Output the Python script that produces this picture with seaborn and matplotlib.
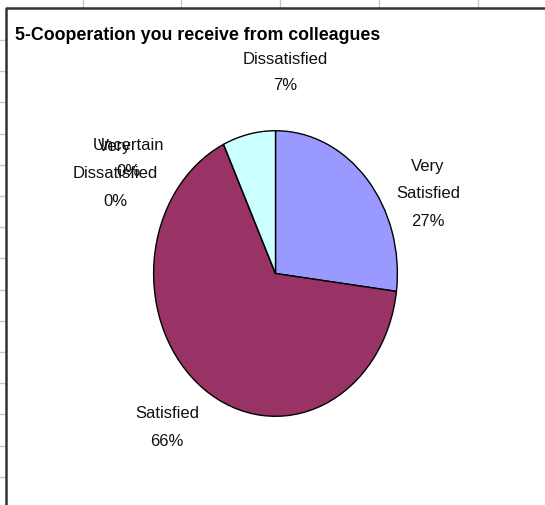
import matplotlib
matplotlib.use("Agg")
import matplotlib.pyplot as plt
import seaborn as sns

# data
categories = ['Very Satisfied', 'Satisfied', 'Very Dissatisfied', 'Uncertain', 'Dissatisfied']
label_text = ['Very\nSatisfied', 'Satisfied', 'Very\nDissatisfied', 'Uncertain', 'Dissatisfied']
percents = [27, 66, 0, 0, 7]
colors = ['#9999FF', '#993366', '#FFFFFF', '#FFFFCC', '#CCFFFF']
title = '5-Cooperation you receive from colleagues'

sns.set_style('white')
plt.rcParams['font.family'] = ['Liberation Sans', 'DejaVu Sans']

W, H = 545, 505
fig = plt.figure(figsize=(W / 100, H / 100), dpi=100)

# background layer in pixel coords (y down)
bg = fig.add_axes([0, 0, 1, 1])
bg.set_xlim(0, W)
bg.set_ylim(H, 0)
bg.axis('off')

# spreadsheet grid peeking out around the chart
for gx in [83, 181, 280, 379, 478]:
    bg.plot([gx, gx], [0, 7], color='#c8c8c8', lw=1)
for i in range(16):
    gy = 40 + i * 31.2
    bg.plot([0, 5], [gy, gy], color='#c8c8c8', lw=1)

# chart frame
bg.plot([5.5, 5.5, W + 5], [H + 5, 8, 8], color='#333333', lw=1.8, solid_capstyle='butt')

bg.text(15, 35, title, fontsize=12.8, fontweight='bold', ha='left', va='center', color='black')

# pie drawn in its own (stretched) axes
pax = fig.add_axes([153 / W, (H - 417) / H, 245 / W, 287 / H])
pax.pie(percents, colors=colors, startangle=90, counterclock=False,
        wedgeprops=dict(edgecolor='black', linewidth=1))
pax.set_aspect('auto')
pax.set_xlim(-1.005, 1.005)
pax.set_ylim(-1.005, 1.005)
pax.axis('off')

# data labels, first line centre in pixels
label_pos = {
    'Very Satisfied': (428, 167),
    'Satisfied': (167, 414),
    'Very Dissatisfied': (115, 147),
    'Uncertain': (128, 145),
    'Dissatisfied': (285, 59),
}
step = 27
for cat, txt, p in zip(categories, label_text, percents):
    x0, y0 = label_pos[cat]
    lines = txt.split('\n') + [f'{p}%']
    for k, line in enumerate(lines):
        bg.text(x0, y0 + k * step, line, fontsize=12, ha='center', va='center', color='#111111')

fig.savefig('out.png', dpi=100)
